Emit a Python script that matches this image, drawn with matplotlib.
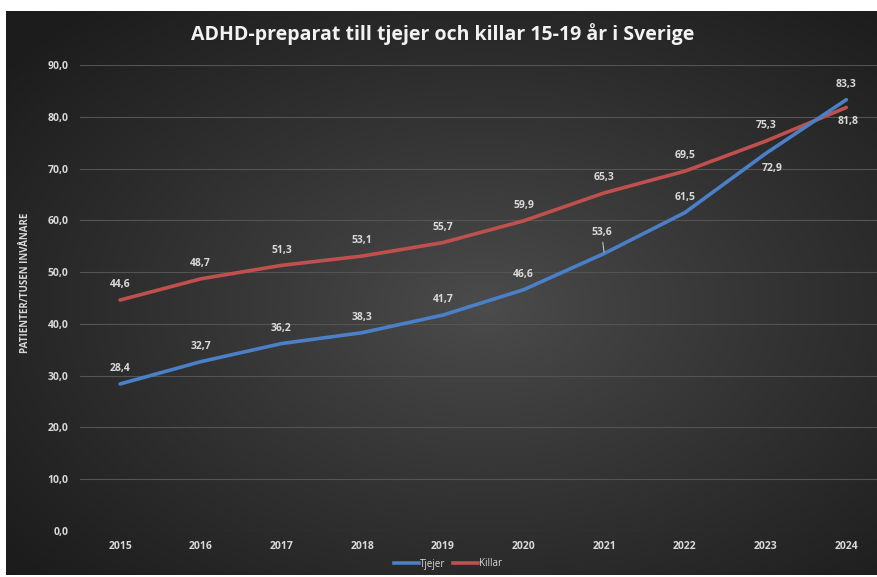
import numpy as np
import matplotlib
matplotlib.use("Agg")
import matplotlib.pyplot as plt
from matplotlib.lines import Line2D

years = ["2015", "2016", "2017", "2018", "2019", "2020", "2021", "2022", "2023", "2024"]
tjejer = [28.4, 32.7, 36.2, 38.3, 41.7, 46.6, 53.6, 61.5, 72.9, 83.3]
killar = [44.6, 48.7, 51.3, 53.1, 55.7, 59.9, 65.3, 69.5, 75.3, 81.8]
tjejer_labels = ["28,4", "32,7", "36,2", "38,3", "41,7", "46,6", "53,6", "61,5", "72,9", "83,3"]
killar_labels = ["44,6", "48,7", "51,3", "53,1", "55,7", "59,9", "65,3", "69,5", "75,3", "81,8"]
yticks = [0, 10, 20, 30, 40, 50, 60, 70, 80, 90]

plt.rcParams['font.family'] = ['Open Sans', 'DejaVu Sans']

W, H = 877, 577
fig = plt.figure(figsize=(W / 100, H / 100), dpi=100, facecolor='white')

# dark radial-gradient background
bg = fig.add_axes([6 / W, 2 / H, 1 - 6 / W, (575 - 11) / H])
bg.set_axis_off()
nx, ny = 400, 260
xx, yy = np.meshgrid(np.linspace(-1, 1, nx), np.linspace(-1, 1, ny))
r = np.sqrt((xx - 0.1) ** 2 + (yy - 0.05) ** 2) / np.sqrt(2)
light = np.array([0x4c, 0x4c, 0x4c]) / 255
dark = np.array([0x1c, 0x1c, 0x1c]) / 255
t = np.clip(r, 0, 1)[..., None] ** 0.9
img = light * (1 - t) + dark * t
bg.imshow(img, aspect='auto', extent=[0, 1, 0, 1], interpolation='bilinear')
bg.set_xlim(0, 1)
bg.set_ylim(0, 1)

# main axes
left_px = 79.7
step = 80.7
right_px = W
ax = fig.add_axes([left_px / W, (H - 531) / H, (right_px - left_px) / W, (531 - 65) / H])
ax.set_facecolor('none')
x = np.arange(len(years))
ax.set_xlim(-0.5, -0.5 + (right_px - left_px) / step)
ax.set_ylim(0, 90)

grid_col = '#545454'
for yv in yticks:
    ax.axhline(yv, color=grid_col, lw=0.8, zorder=1)

blue = '#4a80c8'
red = '#c0504d'
ax.plot(x, killar, color=red, lw=2.6, solid_capstyle='round', zorder=3)
ax.plot(x, tjejer, color=blue, lw=2.6, solid_capstyle='round', zorder=4)

for s in ax.spines.values():
    s.set_visible(False)
ax.tick_params(length=0, colors='#d9d9d9')
ax.set_xticks(x)
ax.set_xticklabels(years, fontsize=7.5, fontweight='bold', color='#d9d9d9')
ax.set_yticks(yticks)
ax.set_yticklabels([f"{v},0" for v in yticks], fontsize=7.5, fontweight='bold', color='#d9d9d9')
ax.tick_params(axis='x', pad=7)
ax.tick_params(axis='y', pad=8)

lab_col = '#d9d9d9'
kw = dict(ha='center', fontsize=7.5, fontweight='bold', color=lab_col, zorder=5)
# Tjejer labels
for i, (v, s) in enumerate(zip(tjejer, tjejer_labels)):
    if i == 8:
        ax.annotate(s, (i, v), xytext=(5, -11), textcoords='offset points', va='center', **kw)
    elif i == 6:
        ax.annotate(s, (i, v), xytext=(-2, 15), textcoords='offset points', va='center',
                    arrowprops=dict(arrowstyle='-', color='#bfbfbf', lw=0.8, shrinkA=1, shrinkB=1), **kw)
    else:
        ax.annotate(s, (i, v), xytext=(0, 11), textcoords='offset points', va='center', **kw)
# Killar labels
for i, (v, s) in enumerate(zip(killar, killar_labels)):
    if i == 9:
        ax.annotate(s, (i, v), xytext=(1, -10), textcoords='offset points', va='center', **kw)
    else:
        ax.annotate(s, (i, v), xytext=(0, 11), textcoords='offset points', va='center', **kw)

# title
fig.text(443 / W, 1 - 34 / H, "ADHD-preparat till tjejer och killar 15-19 år i Sverige",
         ha='center', va='center', fontsize=14, fontweight='bold', color='#f2f2f2')

# y label
fig.text(26 / W, 1 - 283 / H, "PATIENTER/TUSEN INVÅNARE", rotation=90,
         ha='center', va='center', fontsize=7, fontweight='bold', color='#d9d9d9')

# legend
handles = [Line2D([0], [0], color=blue, lw=2.6), Line2D([0], [0], color=red, lw=2.6)]
leg = fig.legend(handles, ["Tjejer", "Killar"], loc='center', bbox_to_anchor=(448 / W, 1 - 564 / H),
                 ncol=2, frameon=False, fontsize=7, handlelength=2.6, handletextpad=0.1,
                 columnspacing=0.8, labelcolor='#d9d9d9')

fig.savefig("out.png", dpi=100, facecolor='white')
